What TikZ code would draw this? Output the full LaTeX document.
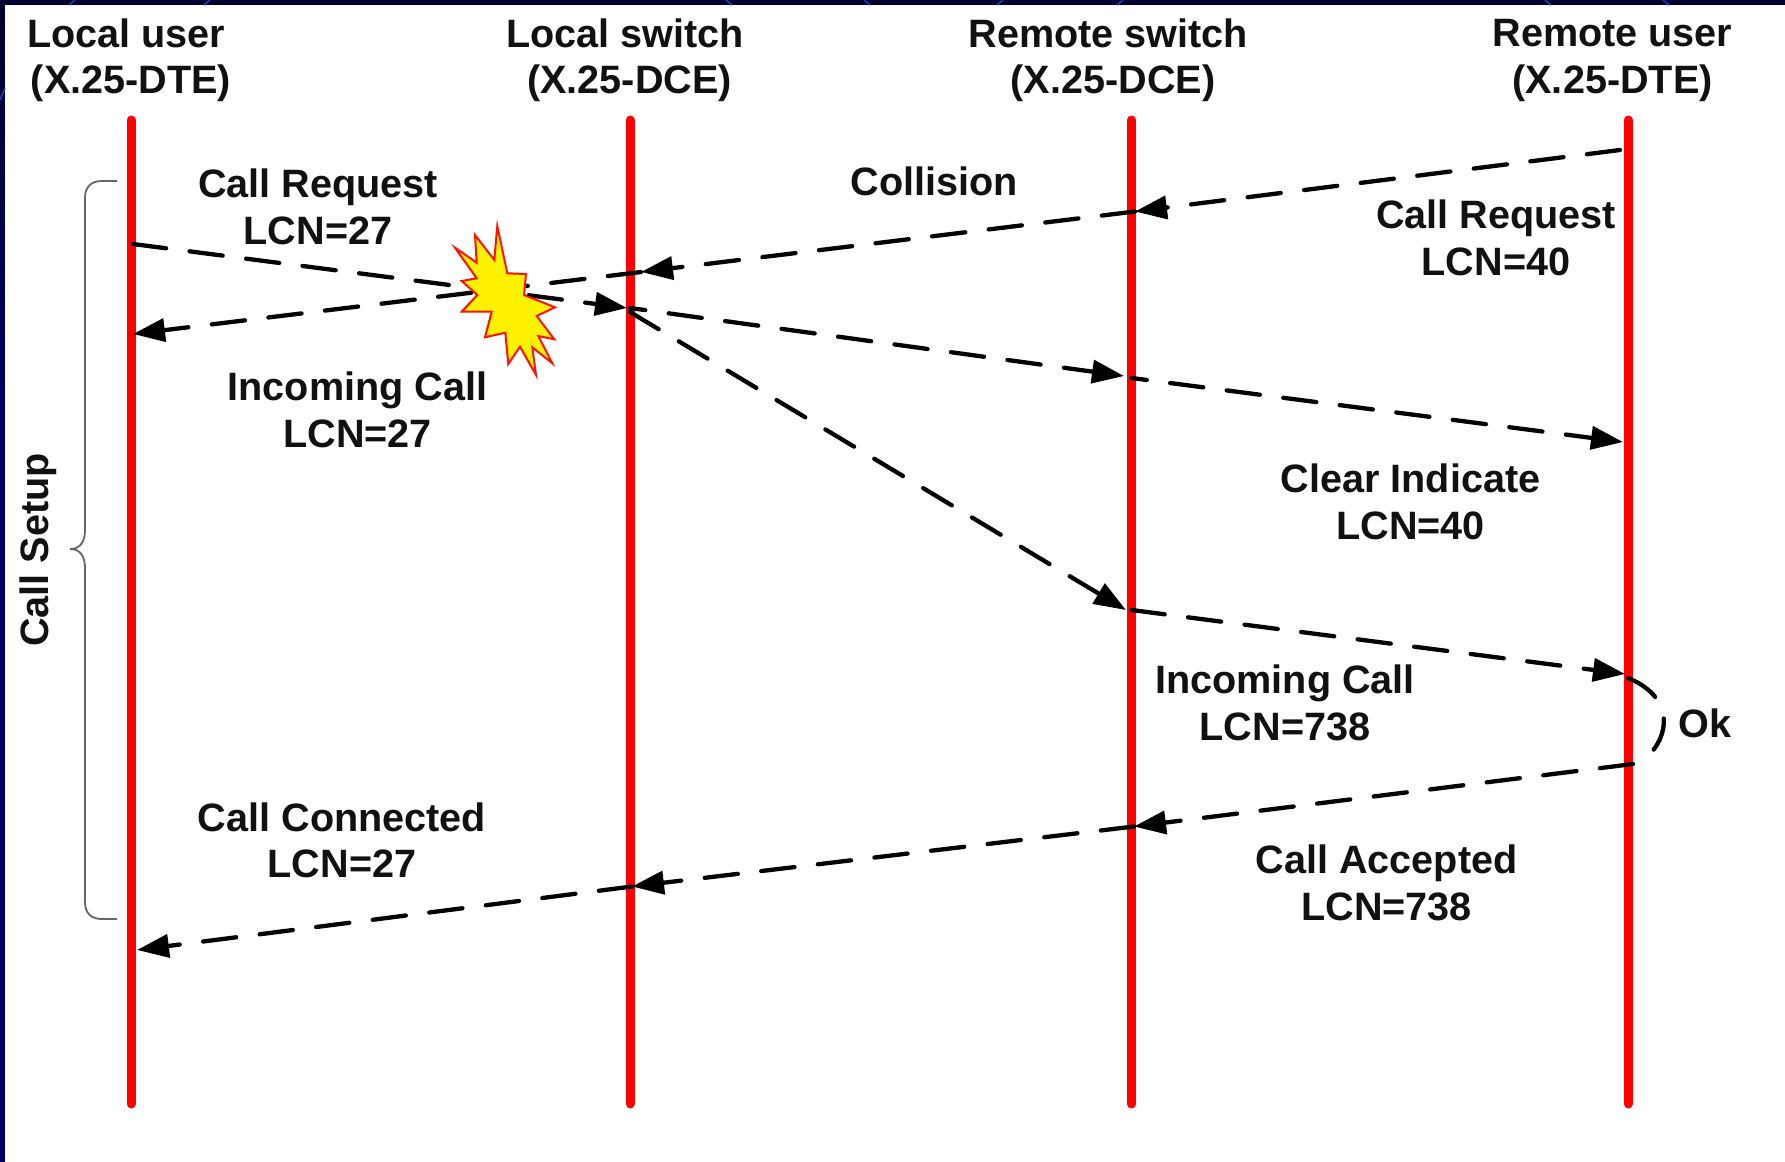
\documentclass[tikz,border=0pt]{standalone}
\usepackage{fontspec}
\setmainfont{Liberation Sans}
\usetikzlibrary{arrows.meta}
\definecolor{navy}{HTML}{00002E}
\definecolor{navylow}{HTML}{000066}
\definecolor{txt}{HTML}{111111}
\definecolor{streakblue}{HTML}{1C44B8}
\tikzset{
  lifeline/.style={draw=red,line width=4.5pt,line cap=round},
  msg/.style={draw=black,line width=2.15pt,dash pattern=on 16.7pt off 11.8pt,line cap=round},
  msgtip/.style={msg,-{Triangle[length=16pt,width=11.5pt]}},
  lbl/.style={font=\fontsize{19.8pt}{23.2pt}\selectfont\bfseries,text=txt,align=center,inner sep=0pt},
  bracestyle/.style={draw=black!60,line width=0.9pt},
  burst/.style={draw=red!85!orange,fill=yellow,line width=1pt,line join=miter},
  streak/.style={draw=streakblue,line width=0.7pt}
}
\begin{document}
\begin{tikzpicture}[x=0.5pt,y=-0.5pt]
\useasboundingbox (0,0) rectangle (1785,1162);
\fill[navy] (0,0) rectangle (1785,5);
\fill[top color=navy,bottom color=navylow] (0,0) rectangle (5,400);
\fill[navylow] (0,400) rectangle (5,1162);
\fill[white] (5,5) rectangle (1785,1162);
% border streaks
\draw[streak] (69,5) -- (75,0);
\draw[streak] (204,5) -- (210,0);
\draw[streak] (732,5) -- (726,0);
\draw[streak] (870,5) -- (864,0);
\draw[streak] (997,5) -- (1003,0);
\draw[streak] (1117,5) -- (1123,0);
\draw[streak] (1551,5) -- (1545,0);
\draw[streak] (1669,5) -- (1663,0);
\draw[streak] (0,100) -- (5,88);
% lifelines
\coordinate (lut) at (131,120); \coordinate (lub) at (131,1104);
\coordinate (lst) at (630,120); \coordinate (lsb) at (630,1104);
\coordinate (rst) at (1131.5,120); \coordinate (rsb) at (1131.5,1104);
\coordinate (rut) at (1628,120); \coordinate (rub) at (1628,1104);
\draw[lifeline] (lut) -- (lub);
\draw[lifeline] (lst) -- (lsb);
\draw[lifeline] (rst) -- (rsb);
\draw[lifeline] (rut) -- (rub);
% headers
\node[lbl] (h1) at (131,60.5) {Local user\kern4.6pt\\(X.25-DTE)};
\node[lbl] (h2) at (629.5,60.5) {Local switch\kern4.6pt\\(X.25-DCE)};
\node[lbl] (h3) at (1113,60.5) {Remote switch\kern4.6pt\\(X.25-DCE)};
\node[lbl] (h4) at (1612.5,60.5) {Remote user\\(X.25-DTE)};
% labels
\node[lbl] (l1) at (318,207) {Call Request\\LCN=27};
\node[lbl] (l2) at (934.5,181) {Collision};
\node[lbl] (l3) at (1496,238) {Call Request\\LCN=40};
\node[lbl] (l4) at (357.5,410) {Incoming Call\\LCN=27};
\node[lbl] (l5) at (1410.5,502) {Clear Indicate\\LCN=40};
\node[lbl] (l6) at (1285,703) {Incoming Call\\LCN=738};
\node[lbl] (l7) at (1705,723) {Ok};
\node[lbl] (l8) at (342,840.5) {Call Connected\\LCN=27};
\node[lbl] (l9) at (1386.5,883) {Call Accepted\\LCN=738};
\node[lbl,rotate=90] (l10) at (38.5,550) {Call Setup};
% message points
\coordinate (a0) at (1620,150); \coordinate (a1) at (1135,211.5);
\coordinate (a2) at (641,272); \coordinate (a3) at (133,334);
\coordinate (b0) at (133,244); \coordinate (b1) at (627,308);
\coordinate (b2) at (630,308); \coordinate (b3) at (1124,376);
\coordinate (b4) at (1131.5,378); \coordinate (b5) at (1623,442);
\coordinate (c0) at (630,312); \coordinate (c1) at (1126,610);
\coordinate (c2) at (1131.5,610); \coordinate (c3) at (1625,674);
\coordinate (d0) at (1633,764); \coordinate (d1) at (1134,826.5);
\coordinate (d2) at (632,886.5); \coordinate (d3) at (137,950);
\coordinate (o0) at (1628,678); \coordinate (o1) at (1650,754);
\draw[msgtip] (a0) -- (a1);
\draw[msgtip] (a1) -- (a2);
\draw[msgtip] (a2) -- (a3);
\draw[msgtip] (b0) -- (b1);
\draw[msgtip,dash phase=9pt] (b2) -- (b3);
\draw[msgtip,dash phase=9pt] (b4) -- (b5);
\draw[msgtip] (c0) -- (c1);
\draw[msgtip] (c2) -- (c3);
\draw[msgtip] (d0) -- (d1);
\draw[msgtip] (d1) -- (d2);
\draw[msgtip] (d2) -- (d3);
\draw[msg] (o0) .. controls (1670,695) and (1672,730) .. (o1);
% brace
\coordinate (bt) at (117,181); \coordinate (bm) at (70,549); \coordinate (bb) at (117,919);
\draw[bracestyle] (bt) -- (102,181) .. controls (91,181) and (85,187) .. (85,198)
  -- (85,530) .. controls (85,542) and (80,549) .. (bm)
  .. controls (80,549) and (85,556) .. (85,568)
  -- (85,902) .. controls (85,913) and (91,919) .. (102,919) -- (bb);
% burst
\draw[burst] (497.3,226) -- (507.3,273.3) -- (526,274) -- (524,295) -- (555,307.3)
  -- (536.7,316) -- (554.3,339.3) -- (538.3,336) -- (552.3,363.3) -- (532.3,347.3)
  -- (536,375) -- (520,346.7) -- (508.3,364) -- (505.3,332.7) -- (485,337.3)
  -- (491.7,311.7) -- (461.7,311.7) -- (477.3,295) -- (461.7,281) -- (476.7,278.3)
  -- (455,247.7) -- (476.7,262.7) -- (475,235) -- (494.3,260) -- cycle;
\end{tikzpicture}
\end{document}
